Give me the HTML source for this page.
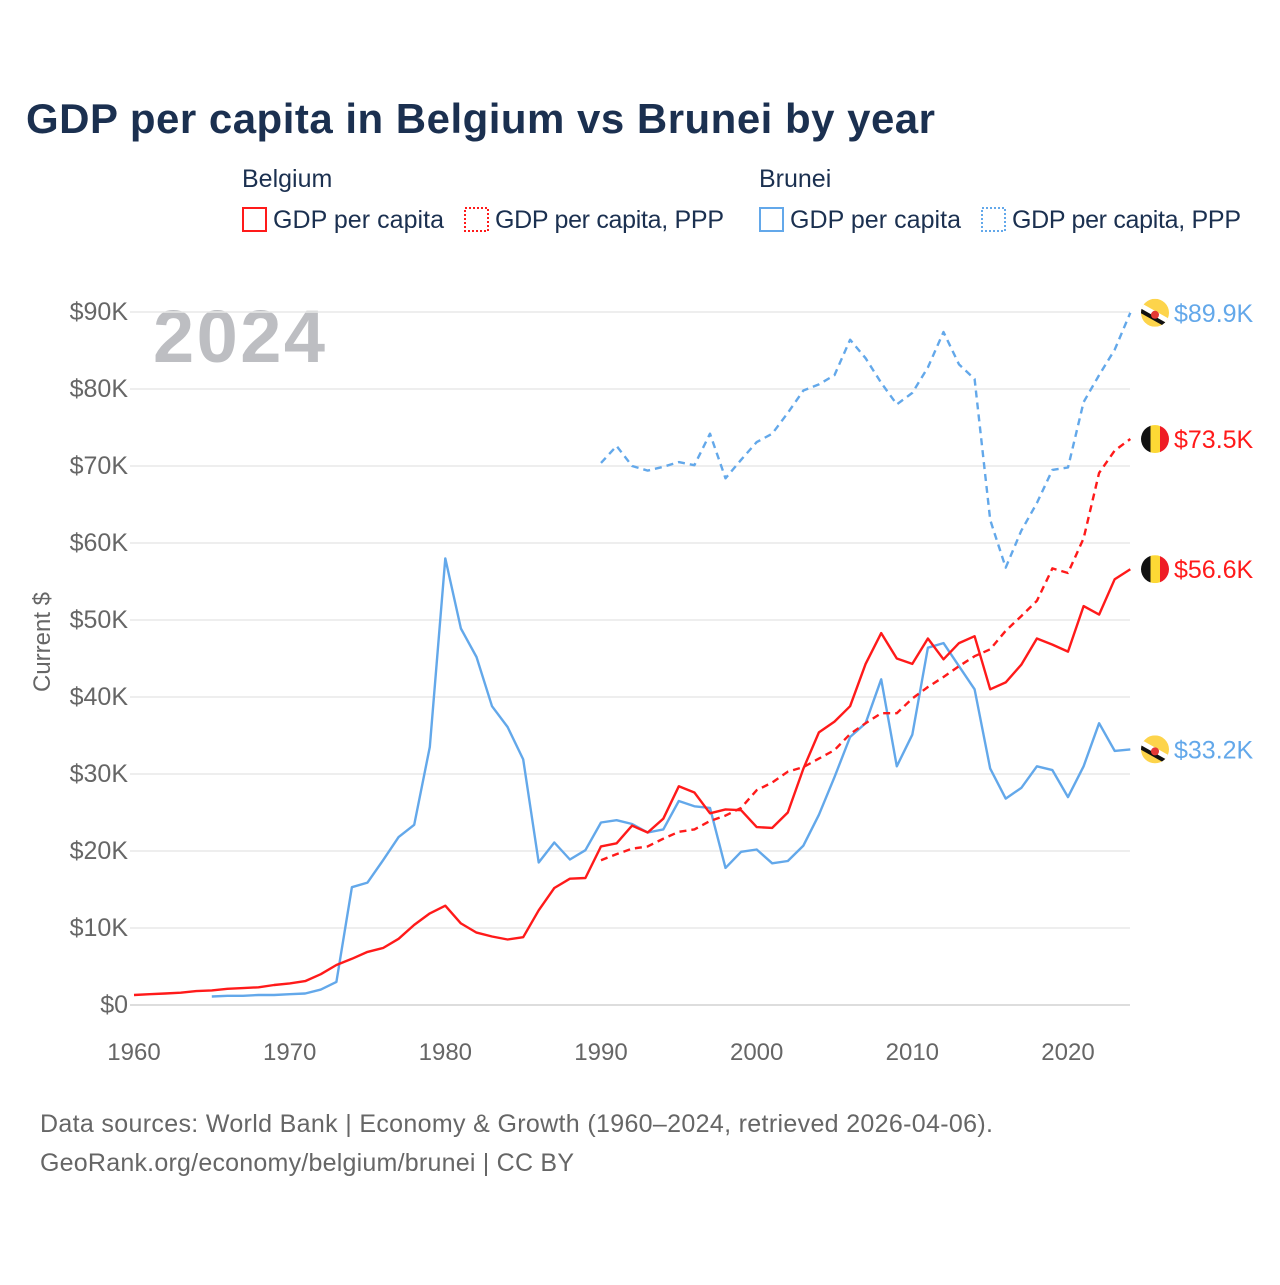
<!DOCTYPE html>
<html><head><meta charset="utf-8"><style>
body{margin:0;background:#fff;font-family:"Liberation Sans",sans-serif}
</style></head><body>
<svg id="c" width="1280" height="1280" xmlns="http://www.w3.org/2000/svg" font-family="Liberation Sans, sans-serif">
<defs>
<clipPath id="cp"><circle cx="0" cy="0" r="14"/></clipPath>
</defs>
<text x="26" y="133" font-size="42" font-weight="bold" fill="#1b3050" textLength="909">GDP per capita in Belgium vs Brunei by year</text>
<g font-size="25" fill="#1b3050">
<text x="242" y="187">Belgium</text>
<text x="759" y="187">Brunei</text>
<g><rect x="243" y="208" width="23" height="23" fill="none" stroke="#ff1a1a" stroke-width="2"/><text x="273" y="228" textLength="171">GDP per capita</text></g>
<g><rect x="465" y="208" width="23" height="23" fill="none" stroke="#ff1a1a" stroke-width="2" stroke-dasharray="2,2"/><text x="495" y="228" textLength="229">GDP per capita, PPP</text></g>
<g><rect x="760" y="208" width="23" height="23" fill="none" stroke="#63a8ea" stroke-width="2"/><text x="790" y="228" textLength="171">GDP per capita</text></g>
<g><rect x="982" y="208" width="23" height="23" fill="none" stroke="#63a8ea" stroke-width="2" stroke-dasharray="2,2"/><text x="1012" y="228" textLength="229">GDP per capita, PPP</text></g>
</g>
<text x="153" y="362" font-size="74" font-weight="bold" fill="#bdbec2" textLength="172">2024</text>
<text transform="translate(50,642) rotate(-90)" text-anchor="middle" font-size="24" fill="#666">Current $</text>
<g id="grid"></g><g id="series"></g><g id="ends"></g>
<text x="40" y="1132" font-size="25" fill="#666" textLength="953">Data sources: World Bank | Economy &amp; Growth (1960–2024, retrieved 2026-04-06).</text>
<text x="40" y="1171" font-size="25" fill="#666" textLength="534">GeoRank.org/economy/belgium/brunei | CC BY</text>
</svg>
<script>
const yTicks=[0,10,20,30,40,50,60,70,80,90];
const xTicks=[1960,1970,1980,1990,2000,2010,2020];
const belGdp=[1.3,1.4,1.5,1.6,1.8,1.9,2.1,2.2,2.3,2.6,2.8,3.1,4.0,5.2,6.0,6.9,7.4,8.6,10.4,11.9,12.9,10.6,9.4,8.9,8.5,8.8,12.3,15.2,16.4,16.5,20.6,21.0,23.3,22.4,24.2,28.4,27.6,24.9,25.4,25.3,23.1,23.0,25.0,30.7,35.4,36.8,38.8,44.3,48.3,45.0,44.3,47.6,44.9,47.0,47.9,41.0,41.9,44.2,47.6,46.8,45.9,51.8,50.7,55.3,56.6];
const belPpp=[18.8,19.6,20.3,20.6,21.6,22.5,22.8,23.9,24.6,25.6,27.9,28.9,30.3,30.9,32.0,33.1,35.2,36.6,37.9,37.9,39.8,41.3,42.6,44.0,45.3,46.2,48.6,50.5,52.5,56.7,56.1,60.6,69.1,72.0,73.5];
const bruGdp=[1.1,1.2,1.2,1.3,1.3,1.4,1.5,2.0,3.0,15.3,15.9,18.8,21.8,23.4,33.5,58.0,48.9,45.2,38.8,36.1,31.9,18.5,21.1,18.9,20.1,23.7,24.0,23.5,22.4,22.8,26.5,25.8,25.6,17.8,19.9,20.2,18.4,18.7,20.7,24.7,29.6,34.8,36.6,42.3,31.0,35.1,46.4,47.0,44.0,41.0,30.7,26.8,28.2,31.0,30.5,27.0,31.0,36.6,33.0,33.2];
const bruPpp=[70.4,72.6,70.0,69.4,69.9,70.5,70.1,74.2,68.4,70.8,73.1,74.2,76.9,79.8,80.6,81.8,86.4,84.0,80.8,78.0,79.5,82.8,87.4,83.2,81.3,63.0,56.8,61.6,65.2,69.5,69.8,78.3,81.8,85.1,89.9];
const RED="#ff1a1a",BLUE="#63a8ea",NS="http://www.w3.org/2000/svg";
const X=y=>134+(y-1960)*(934/60);
const Y=v=>1005-v*7.7;
function mk(t,a,p){const e=document.createElementNS(NS,t);for(const k in a)e.setAttribute(k,a[k]);p.appendChild(e);return e;}
const grid=document.getElementById('grid'),ser=document.getElementById('series'),ends=document.getElementById('ends');
yTicks.forEach(v=>{
 const l=mk('line',{x1:130,x2:1130,y1:Y(v),y2:Y(v),stroke:v?'#e8e8e8':'#ddd','stroke-width':v?1.5:2},grid);
 
 
 const t=mk('text',{x:128,y:Y(v)+8,'text-anchor':'end','font-size':25,fill:'#666'},grid);
 t.textContent=v?'$'+v+'K':'$0';
 
 
});
xTicks.forEach(y=>{
 const t=mk('text',{x:X(y),y:1060,'text-anchor':'middle','font-size':24,fill:'#666'},grid);
 t.textContent=y;
 
 
});
function line(arr,start,col,dash,name){
 const d=arr.map((v,i)=>(i?'L':'M')+X(start+i).toFixed(1)+','+Y(v).toFixed(1)).join('');
 const p=mk('path',{d:d,fill:'none',stroke:col,'stroke-width':2.4,'stroke-linejoin':'round'},ser);
 if(dash)p.setAttribute('stroke-dasharray','7,5');
 
 
}
line(bruPpp,1990,BLUE,true,'line-brunei-ppp');
line(bruGdp,1965,BLUE,false,'line-brunei-gdp');
line(belPpp,1990,RED,true,'line-belgium-ppp');
line(belGdp,1960,RED,false,'line-belgium-gdp');
function flag(v,country,col,name){
 const cy=Y(v),cx=1155;
 const g=mk('g',{transform:`translate(${cx},${cy})`},ends);
 
 
 const inner=mk('g',{'clip-path':'url(#cp)'},g);
 if(country==='be'){
  mk('rect',{x:-14,y:-14,width:10,height:28,fill:'#111'},inner);
  mk('rect',{x:-4.5,y:-14,width:9.5,height:28,fill:'#fdd835'},inner);
  mk('rect',{x:5,y:-14,width:10,height:28,fill:'#ef1c24'},inner);
 }else{
  mk('rect',{x:-14,y:-14,width:28,height:28,fill:'#fdd44b'},inner);
  mk('line',{x1:-16,y1:-8,x2:16,y2:10,stroke:'#fff',"stroke-width":5},inner);
  mk('line',{x1:-16,y1:-3,x2:16,y2:15,stroke:'#111',"stroke-width":4},inner);
  mk('circle',{cx:0,cy:2,r:4,fill:'#e53935'},inner);
 }
 const t=mk('text',{x:1174,y:cy+9,'font-size':25,fill:col},ends);
 t.textContent='$'+v.toFixed(1)+'K';
 
 
}
flag(bruPpp[bruPpp.length-1],'bn',BLUE,'brunei-ppp');
flag(belPpp[belPpp.length-1],'be',RED,'belgium-ppp');
flag(belGdp[belGdp.length-1],'be',RED,'belgium-gdp');
flag(bruGdp[bruGdp.length-1],'bn',BLUE,'brunei-gdp');
</script>
</body></html>
